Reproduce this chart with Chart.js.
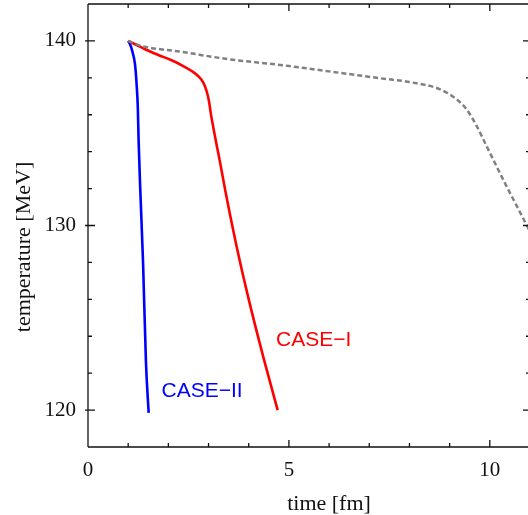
<!DOCTYPE html>
<html>
<head>
<meta charset="utf-8">
<script src="https://cdn.jsdelivr.net/npm/chart.js@4/dist/chart.umd.min.js"></script>
<style>
  html, body { margin: 0; padding: 0; background: #fff; overflow: hidden; }
  #wrap { width: 528px; height: 515px; overflow: hidden; }
  canvas { display: block; }
</style>
</head>
<body>
<div id="wrap"><canvas id="tempChart" width="531" height="515"></canvas></div>
<script>
// CASE-I (red)
const caseITime = [1, 1.17, 1.42, 1.75, 2.08, 2.37, 2.58, 2.74, 2.87, 2.95, 3.01, 3.06, 3.12, 3.18, 3.28, 3.42, 3.70, 4.00, 4.36, 4.72];
const caseITemp = [140, 139.82, 139.55, 139.24, 138.95, 138.64, 138.37, 138.1, 137.74, 137.29, 136.75, 136.02, 135.3, 134.6, 133.5, 131.85, 128.85, 126.0, 122.9, 120.0];

// CASE-II (blue)
const caseIITime = [1, 1.05, 1.10, 1.17, 1.21, 1.24, 1.26, 1.30, 1.37, 1.443, 1.51];
const caseIITemp = [140, 139.8, 139.46, 138.73, 137.65, 136.38, 134.57, 132.0, 128.0, 122.55, 119.85];

// reference (grey dashed)
const refTime = [1, 1.33, 2.29, 3.53, 4.78, 6.0, 7.26, 8.09, 8.76, 9.17, 9.42, 9.67, 9.92, 10.17, 10.41, 10.66, 10.91, 11.0];
const refTemp = [140, 139.73, 139.42, 139.0, 138.7, 138.35, 137.98, 137.74, 137.38, 136.84, 136.3, 135.4, 134.3, 133.2, 132.15, 131.1, 130.05, 129.67];

// axes
const xMajorTicks = [0, 5, 10];
const xMinorTicks = [1, 2, 3, 4, 6, 7, 8, 9, 11];
const yMajorTicks = [120, 130, 140];
const yMinorTicks = [118, 122, 124, 126, 128, 132, 134, 136, 138, 142];

// curve labels
const labelText = ['CASE\u2212I', 'CASE\u2212II'];
const labelX = [4.68, 1.83];
const labelY = [123.49, 120.72];
const labelColor = ['#ff0000', '#0000ff'];

const toPoints = (xs, ys) => xs.map((x, i) => ({ x: x, y: ys[i] }));

const frameTicks = {
    id: 'frameTicks',
    afterDraw(chart) {
        const ctx = chart.ctx;
        const a = chart.chartArea;
        const xs = chart.scales.x;
        const ys = chart.scales.y;
        ctx.save();
        ctx.strokeStyle = '#111';
        ctx.lineWidth = 1.3;
        ctx.beginPath();
        ctx.moveTo(a.left, a.top); ctx.lineTo(a.right, a.top);
        ctx.moveTo(a.left, a.top); ctx.lineTo(a.left, a.bottom);
        ctx.moveTo(a.left, a.bottom); ctx.lineTo(a.right, a.bottom);
        ctx.moveTo(a.right, a.top); ctx.lineTo(a.right, a.bottom);

        const xTick = (v, len) => {
            const p = xs.getPixelForValue(v);
            ctx.moveTo(p, a.bottom); ctx.lineTo(p, a.bottom - len);
            ctx.moveTo(p, a.top); ctx.lineTo(p, a.top + len);
        };
        const yTick = (v, len, out) => {
            const p = ys.getPixelForValue(v);
            ctx.moveTo(a.left - out, p); ctx.lineTo(a.left + len, p);
            ctx.moveTo(a.right, p); ctx.lineTo(a.right - len, p);
        };
        xMajorTicks.forEach(v => xTick(v, 7));
        xMinorTicks.forEach(v => xTick(v, 4));
        yMajorTicks.forEach(v => yTick(v, 7, 3));
        yMinorTicks.forEach(v => yTick(v, 4, 0));
        ctx.stroke();

        // axis titles
        ctx.fillStyle = '#111';
        ctx.font = '22px "Liberation Serif", "DejaVu Serif", serif';
        ctx.textAlign = 'center';
        ctx.textBaseline = 'alphabetic';
        ctx.fillText('time [fm]', 329, 510);
        ctx.save();
        ctx.translate(30, 247);
        ctx.rotate(-Math.PI / 2);
        ctx.fillText('temperature [MeV]', 0, 0);
        ctx.restore();

        // curve labels
        ctx.font = '21px "Liberation Sans", Arial, sans-serif';
        ctx.textAlign = 'left';
        labelText.forEach((t, i) => {
            ctx.fillStyle = labelColor[i];
            ctx.fillText(t, xs.getPixelForValue(labelX[i]), ys.getPixelForValue(labelY[i]));
        });
        ctx.restore();
    }
};

new Chart(document.getElementById('tempChart').getContext('2d'), {
    type: 'scatter',
    data: {
        datasets: [
            {
                label: 'reference',
                data: toPoints(refTime, refTemp),
                showLine: true,
                borderColor: '#808080',
                borderWidth: 2.5,
                borderDash: [5, 3],
                pointRadius: 0,
                cubicInterpolationMode: 'monotone'
            },
            {
                label: 'CASE-I',
                data: toPoints(caseITime, caseITemp),
                showLine: true,
                borderColor: '#ff0000',
                borderWidth: 2.6,
                pointRadius: 0,
                cubicInterpolationMode: 'monotone'
            },
            {
                label: 'CASE-II',
                data: toPoints(caseIITime, caseIITemp),
                showLine: true,
                borderColor: '#0000ff',
                borderWidth: 2.6,
                pointRadius: 0,
                cubicInterpolationMode: 'monotone'
            }
        ]
    },
    options: {
        responsive: false,
        animation: false,
        layout: { padding: { left: 0, top: 4, right: 1, bottom: 0 } },
        plugins: { legend: { display: false }, tooltip: { enabled: false } },
        scales: {
            x: {
                type: 'linear',
                min: 0,
                max: 11,
                grid: { display: false },
                border: { display: false },
                afterFit: s => { s.height = 68; s.paddingLeft = 0; s.paddingRight = 0; },
                afterBuildTicks: s => { s.ticks = xMajorTicks.map(v => ({ value: v })); },
                ticks: {
                    padding: 3,
                    maxRotation: 0,
                    color: '#111',
                    font: { family: '"Liberation Serif", serif', size: 21 }
                }
            },
            y: {
                type: 'linear',
                min: 118,
                max: 142,
                grid: { display: false },
                border: { display: false },
                afterFit: s => { s.width = 88; s.paddingTop = 0; s.paddingBottom = 0; },
                afterBuildTicks: s => { s.ticks = yMajorTicks.map(v => ({ value: v })); },
                ticks: {
                    padding: 4,
                    color: '#111',
                    font: { family: '"Liberation Serif", serif', size: 21 }
                }
            }
        }
    },
    plugins: [frameTicks]
});
</script>
</body>
</html>
